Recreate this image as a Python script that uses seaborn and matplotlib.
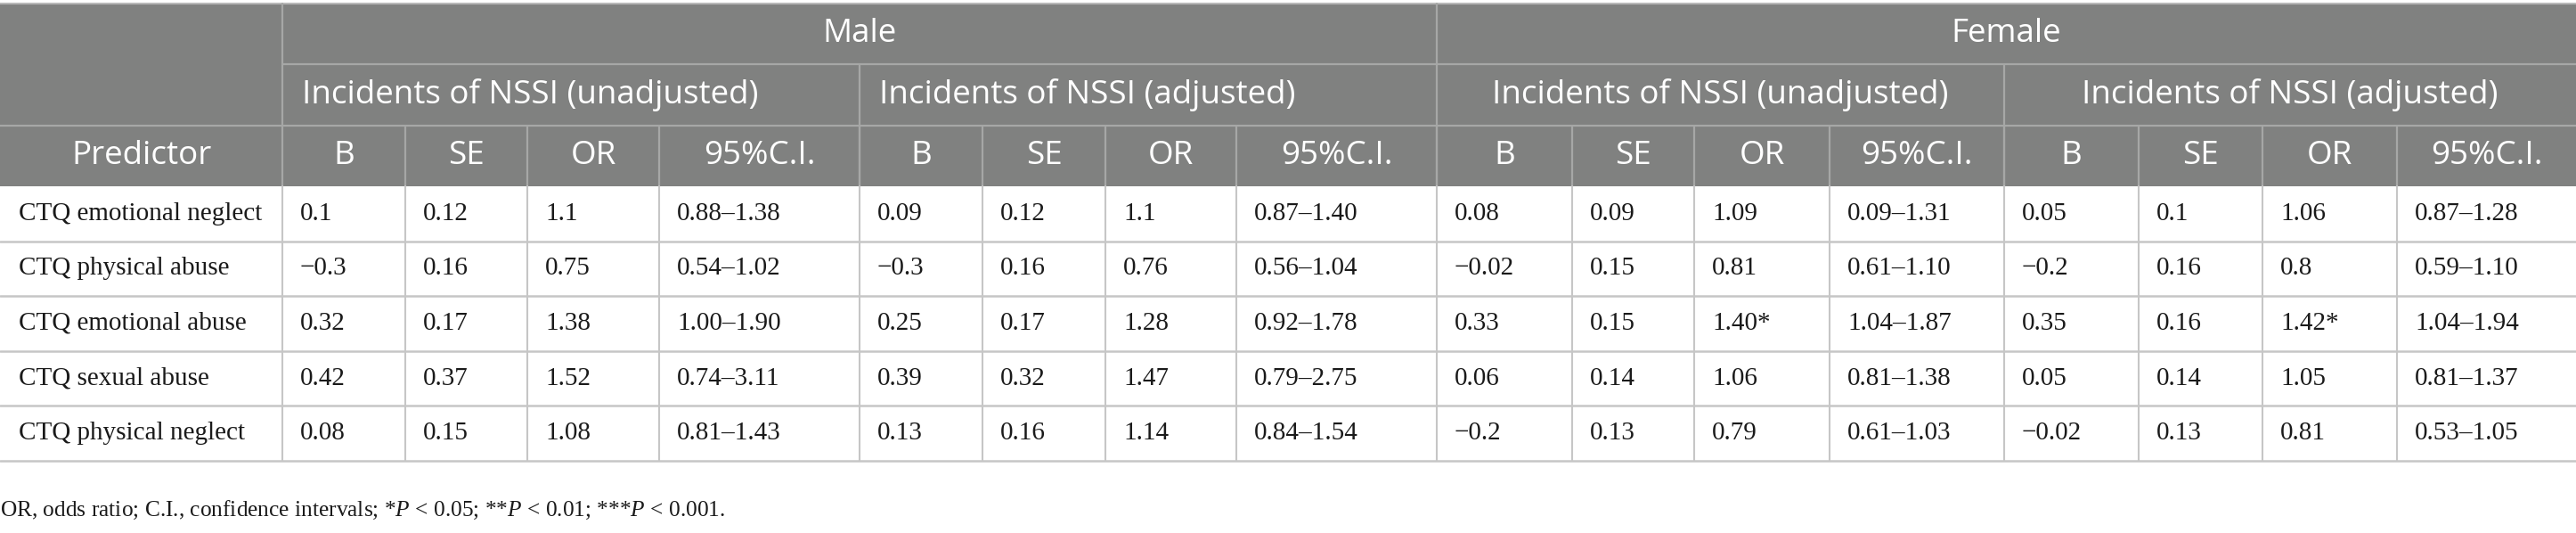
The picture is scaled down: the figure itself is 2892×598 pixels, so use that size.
import matplotlib
matplotlib.use("Agg")
import matplotlib.pyplot as plt
import seaborn as sns
from matplotlib.patches import Rectangle

# === Table data ===
predictors = [
    "CTQ emotional neglect",
    "CTQ physical abuse",
    "CTQ emotional abuse",
    "CTQ sexual abuse",
    "CTQ physical neglect",
]
sub_columns = ["B", "SE", "OR", "95%C.I."]
groups = ["Male", "Female"]
models = ["Incidents of NSSI (unadjusted)", "Incidents of NSSI (adjusted)"]

male_unadj_b = ["0.1", "\u22120.3", "0.32", "0.42", "0.08"]
male_unadj_se = ["0.12", "0.16", "0.17", "0.37", "0.15"]
male_unadj_or = ["1.1", "0.75", "1.38", "1.52", "1.08"]
male_unadj_ci = ["0.88\u20131.38", "0.54\u20131.02", "1.00\u20131.90", "0.74\u20133.11", "0.81\u20131.43"]

male_adj_b = ["0.09", "\u22120.3", "0.25", "0.39", "0.13"]
male_adj_se = ["0.12", "0.16", "0.17", "0.32", "0.16"]
male_adj_or = ["1.1", "0.76", "1.28", "1.47", "1.14"]
male_adj_ci = ["0.87\u20131.40", "0.56\u20131.04", "0.92\u20131.78", "0.79\u20132.75", "0.84\u20131.54"]

female_unadj_b = ["0.08", "\u22120.02", "0.33", "0.06", "\u22120.2"]
female_unadj_se = ["0.09", "0.15", "0.15", "0.14", "0.13"]
female_unadj_or = ["1.09", "0.81", "1.40*", "1.06", "0.79"]
female_unadj_ci = ["0.09\u20131.31", "0.61\u20131.10", "1.04\u20131.87", "0.81\u20131.38", "0.61\u20131.03"]

female_adj_b = ["0.05", "\u22120.2", "0.35", "0.05", "\u22120.02"]
female_adj_se = ["0.1", "0.16", "0.16", "0.14", "0.13"]
female_adj_or = ["1.06", "0.8", "1.42*", "1.05", "0.81"]
female_adj_ci = ["0.87\u20131.28", "0.59\u20131.10", "1.04\u20131.94", "0.81\u20131.37", "0.53\u20131.05"]

blocks = [
    [male_unadj_b, male_unadj_se, male_unadj_or, male_unadj_ci],
    [male_adj_b, male_adj_se, male_adj_or, male_adj_ci],
    [female_unadj_b, female_unadj_se, female_unadj_or, female_unadj_ci],
    [female_adj_b, female_adj_se, female_adj_or, female_adj_ci],
]

footnote = ("OR, odds ratio; C.I., confidence intervals; *$P$ < 0.05; "
            "**$P$ < 0.01; ***$P$ < 0.001.")

# === Layout (pixels) ===
W, H = 2892, 598
col_edges = [0, 317, 455, 592, 740, 965, 1103, 1241, 1388, 1613,
             1765, 1902, 2054, 2250, 2401, 2540, 2691, 2892]
head_edges = [4, 72, 141, 209]
row_h = 61.6
data_top = 209

header_bg = "#808180"
header_line = "#a6a7a6"
body_line = "#c6c6c6"

sns.set_theme(style="white")
plt.rcParams["mathtext.fontset"] = "custom"
plt.rcParams["mathtext.it"] = "Liberation Serif:italic"
plt.rcParams["mathtext.rm"] = "Liberation Serif"

fig = plt.figure(figsize=(W / 100, H / 100), dpi=100)
ax = fig.add_axes([0, 0, 1, 1])
ax.set_xlim(0, W)
ax.set_ylim(H, 0)
ax.axis("off")

sans = "Open Sans"
serif = "Liberation Serif"
hsize = 26.5
dsize = 21

# header background
ax.add_patch(Rectangle((0, head_edges[0]), W, head_edges[-1] - head_edges[0],
                       facecolor=header_bg, edgecolor="none", zorder=1))
ax.plot([0, W], [head_edges[0], head_edges[0]], color="#b8b8b8", lw=1.5, zorder=2)

# header lines
ax.plot([col_edges[1], W], [head_edges[1]] * 2, color=header_line, lw=1.6, zorder=2)
ax.plot([0, W], [head_edges[2]] * 2, color=header_line, lw=1.6, zorder=2)
for x in [col_edges[1], col_edges[9]]:
    ax.plot([x, x], [head_edges[0], head_edges[3]], color=header_line, lw=1.6, zorder=2)
for x in [col_edges[5], col_edges[13]]:
    ax.plot([x, x], [head_edges[1], head_edges[3]], color=header_line, lw=1.6, zorder=2)
for x in col_edges[2:-1]:
    ax.plot([x, x], [head_edges[2], head_edges[3]], color=header_line, lw=1.6, zorder=2)

# header texts
ymid = lambda a, b: (a + b) / 2
for gi, g in enumerate(groups):
    x0, x1 = col_edges[1 + gi * 8], col_edges[9 + gi * 8]
    ax.text((x0 + x1) / 2, ymid(head_edges[0], head_edges[1]), g, color="white",
            family=sans, fontsize=hsize, ha="center", va="center", zorder=3)
for bi in range(4):
    x0, x1 = col_edges[1 + bi * 4], col_edges[5 + bi * 4]
    label = models[bi % 2]
    if bi < 2:
        ax.text(x0 + 22, ymid(head_edges[1], head_edges[2]), label, color="white",
                family=sans, fontsize=hsize, ha="left", va="center", zorder=3)
    else:
        ax.text((x0 + x1) / 2, ymid(head_edges[1], head_edges[2]), label, color="white",
                family=sans, fontsize=hsize, ha="center", va="center", zorder=3)
    for ci, sc in enumerate(sub_columns):
        c0, c1 = col_edges[1 + bi * 4 + ci], col_edges[2 + bi * 4 + ci]
        ax.text((c0 + c1) / 2, ymid(head_edges[2], head_edges[3]), sc, color="white",
                family=sans, fontsize=hsize, ha="center", va="center", zorder=3)
ax.text(col_edges[1] / 2, ymid(head_edges[2], head_edges[3]), "Predictor", color="white",
        family=sans, fontsize=hsize, ha="center", va="center", zorder=3)

# body
n = len(predictors)
row_edges = [data_top + i * row_h for i in range(n + 1)]
for y in row_edges[1:]:
    ax.plot([0, W], [y, y], color=body_line, lw=1.8, zorder=2)
for x in col_edges[1:-1]:
    ax.plot([x, x], [row_edges[0], row_edges[-1]], color=body_line, lw=1.5, zorder=2)

for ri, name in enumerate(predictors):
    yc = ymid(row_edges[ri], row_edges[ri + 1])
    ax.text(21, yc, name, family=serif, fontsize=dsize, color="#1a1a1a",
            ha="left", va="center", zorder=3)
    for bi, block in enumerate(blocks):
        for ci, col in enumerate(block):
            x0 = col_edges[1 + bi * 4 + ci]
            ax.text(x0 + 20, yc, col[ri], family=serif, fontsize=dsize, color="#1a1a1a",
                    ha="left", va="center", zorder=3)

ax.text(0, 572, footnote, family=serif, fontsize=18.3, color="#1a1a1a",
        ha="left", va="center", zorder=3)

fig.savefig("out.png", dpi=100, facecolor="white")
plt.close(fig)
